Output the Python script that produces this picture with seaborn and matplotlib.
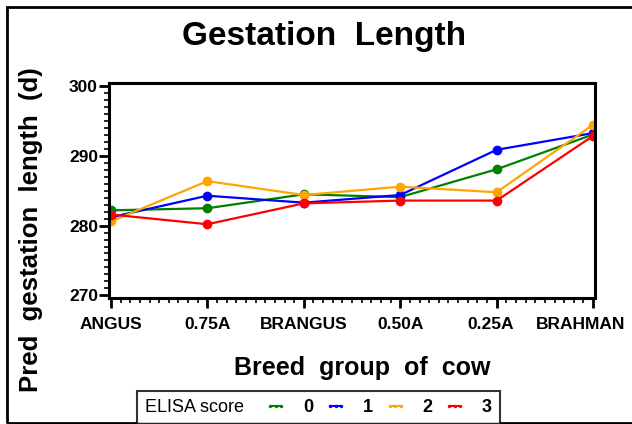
import numpy as np
import pandas as pd
import matplotlib
matplotlib.use("Agg")
import matplotlib.pyplot as plt
from matplotlib.ticker import MultipleLocator
from matplotlib.offsetbox import HPacker
from matplotlib.patches import Rectangle
from matplotlib.transforms import ScaledTranslation
import seaborn as sns

# Datos
razas = ["ANGUS", "0.75A", "BRANGUS", "0.50A", "0.25A", "BRAHMAN"]
elisa_0 = [282.2, 282.5, 284.5, 284.1, 288.1, 293.1]
elisa_1 = [281.2, 284.3, 283.3, 284.4, 290.9, 293.3]
elisa_2 = [280.6, 286.4, 284.4, 285.6, 284.8, 294.5]
elisa_3 = [281.6, 280.2, 283.2, 283.6, 283.6, 292.9]
puntajes = ["0", "1", "2", "3"]
colores = ["#008000", "#0000FF", "#FFA500", "#FF0000"]

filas = []
for p, serie in zip(puntajes, [elisa_0, elisa_1, elisa_2, elisa_3]):
    for r, v in zip(razas, serie):
        filas.append({"raza": r, "gl": v, "ELISA score": p})
df = pd.DataFrame(filas)

sns.set_style("ticks")
plt.rcParams["font.family"] = ["Liberation Sans", "DejaVu Sans"]
for k in ["text.color", "axes.labelcolor", "xtick.color", "ytick.color", "axes.edgecolor"]:
    plt.rcParams[k] = "black"

fig = plt.figure(figsize=(6.32, 4.24), dpi=100)
ax = fig.add_axes([109 / 632, 1 - 298 / 424, 486 / 632, 215 / 424])

sns.lineplot(data=df, x="raza", y="gl", hue="ELISA score", palette=colores,
             marker="o", markersize=7, markeredgewidth=0, linewidth=1.6,
             sort=False, ax=ax, legend=True)

ax.set_xlim(-0.02, 5.02)
ax.set_ylim(269.6, 300.5)
ax.set_yticks([270, 280, 290, 300])
ax.yaxis.set_minor_locator(MultipleLocator(1))
ax.xaxis.set_minor_locator(MultipleLocator(0.1))
ax.tick_params(axis="both", which="major", length=7, width=2, labelsize=12.5, direction="out")
ax.tick_params(axis="x", which="major", pad=7)
ax.tick_params(axis="y", which="major", pad=1)
ax.tick_params(axis="both", which="minor", length=3.5, width=1.2, direction="out")
for t in ax.get_xticklabels() + ax.get_yticklabels():
    t.set_fontweight("bold")
# Las dos ultimas etiquetas se corren a la izquierda para que quepan
xt = ax.get_xticklabels()
xt[4].set_transform(xt[4].get_transform() + ScaledTranslation(-6 / 100, 0, fig.dpi_scale_trans))
xt[5].set_transform(xt[5].get_transform() + ScaledTranslation(-13 / 100, 0, fig.dpi_scale_trans))
for s in ax.spines.values():
    s.set_linewidth(2.2)
    s.set_visible(True)
ax.set_xlabel("Breed  group  of  cow", fontsize=18, fontweight="bold")
ax.set_ylabel("Pred  gestation  length  (d)", fontsize=18.5, fontweight="bold")
ax.xaxis.set_label_coords((362 - 109) / 486, -(356 - 298) / 215)
ax.yaxis.set_label_coords(-(109 - 43) / 486, (298 - 230) / 215)
fig.suptitle("Gestation  Length", x=0.513, y=1 - 37 / 424, va="center",
             fontsize=24, fontweight="bold")

# Leyenda horizontal con el titulo a la izquierda
handles, labels = ax.get_legend_handles_labels()
ax.get_legend().remove()
leg = fig.legend(handles, labels, title="ELISA score", ncol=4, loc="upper left",
                 bbox_to_anchor=(137 / 632, 1 - 391 / 424), fontsize=13, title_fontsize=13,
                 numpoints=3, markerscale=0.35, handlelength=1.2, handletextpad=0.9,
                 columnspacing=0.65, borderpad=0.45, borderaxespad=0, fancybox=False,
                 frameon=True, edgecolor="black")
leg.get_frame().set_linewidth(1.5)
for t in leg.get_texts():
    t.set_fontweight("bold")
for h in leg.legend_handles:
    h.set_linewidth(1.5)
caja = HPacker(pad=0, sep=15, align="center",
               children=[leg._legend_title_box, leg._legend_handle_box])
caja.set_figure(fig)
leg._legend_box._children = [caja]

# Marco exterior de la figura
fig.patches.append(Rectangle((7 / 632, 1 / 424), 1.2, 1 - 8 / 424, transform=fig.transFigure,
                             fill=False, edgecolor="black", linewidth=2, clip_on=False))

plt.savefig("out.png", dpi=100)
